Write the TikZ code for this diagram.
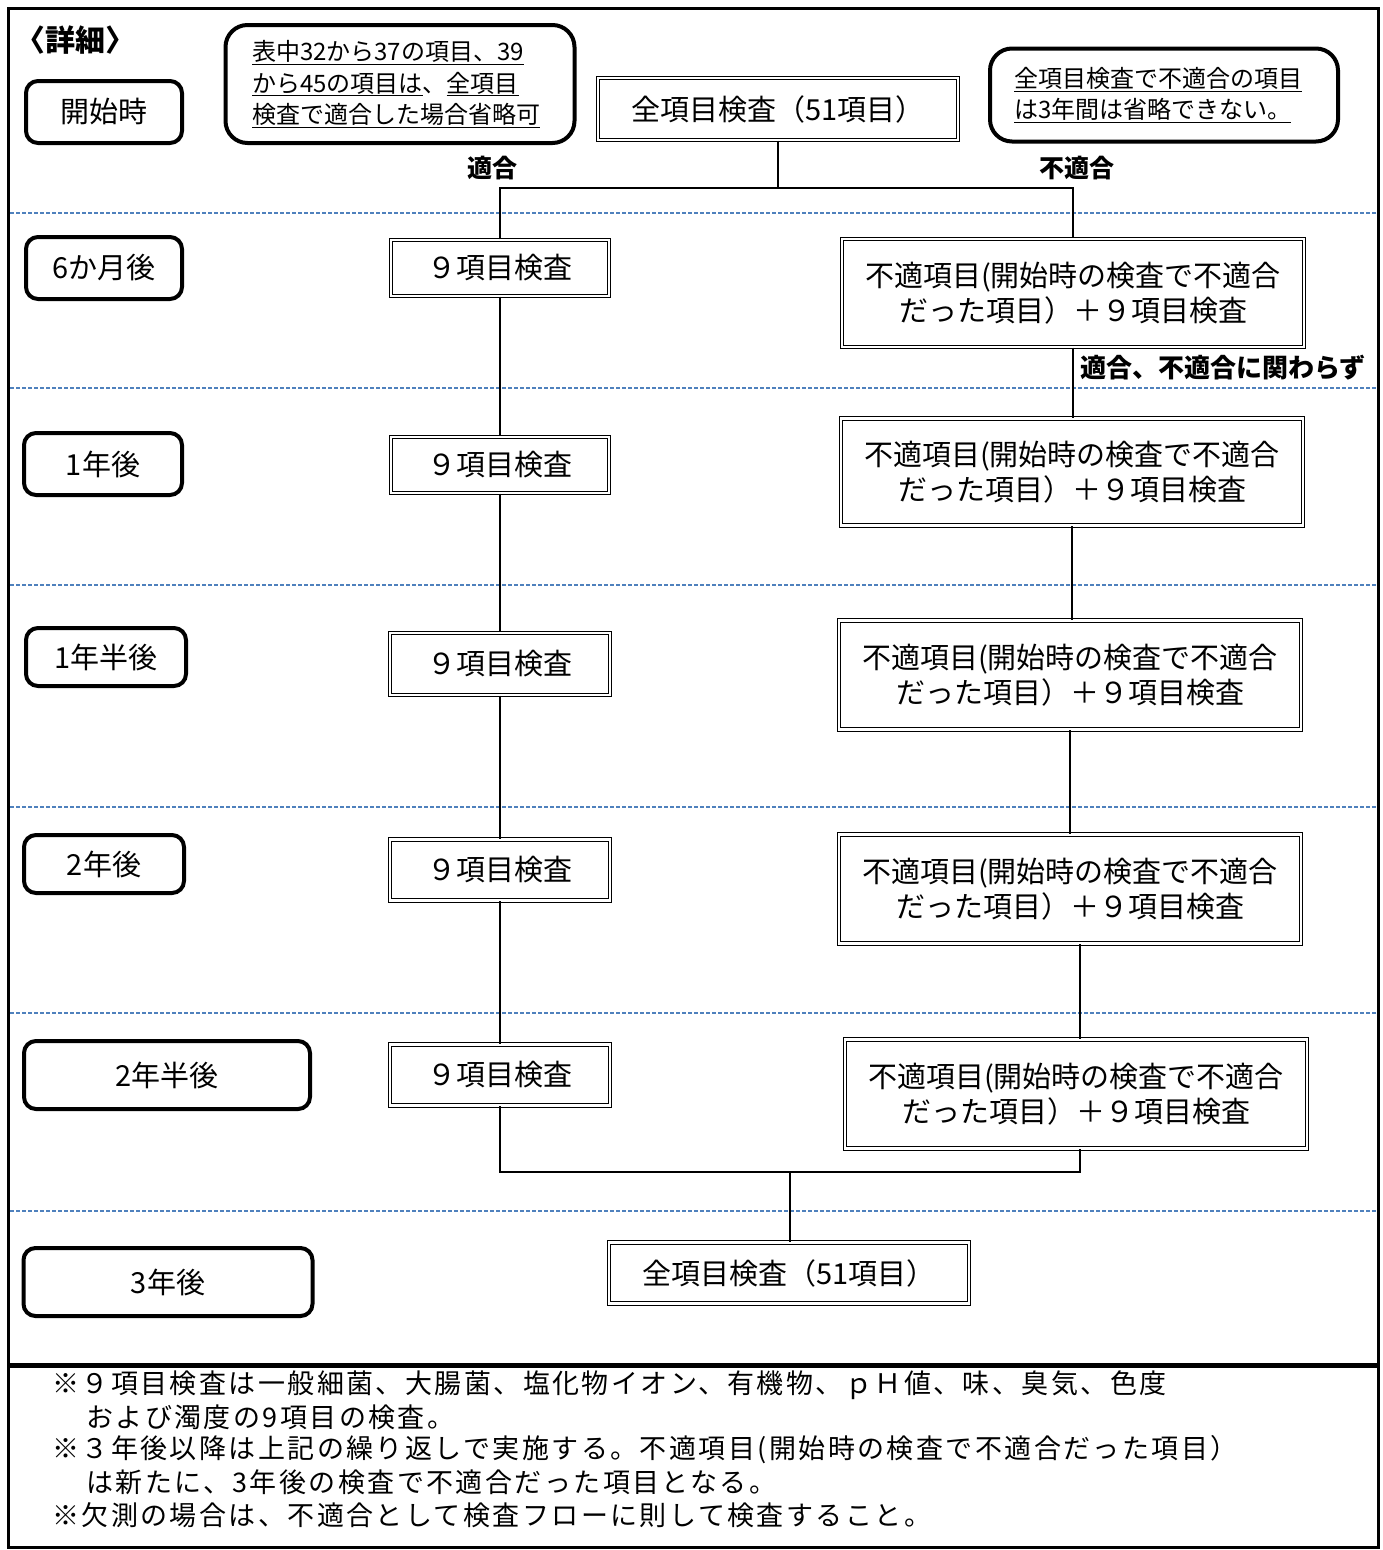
\documentclass[tikz,border=0pt]{standalone}
\usepackage{fontspec}
\setmainfont{Noto Sans CJK JP}
\newcommand\fsz[2]{\fontsize{#1}{#2}\selectfont}
\definecolor{sepblue}{RGB}{79,129,189}
\tikzset{
  x=1pt, y=-1pt,
  lab/.style={draw, line width=4pt, rounded corners=12pt, inner sep=0pt, align=center, font=\fsz{29}{32}},
  note/.style={draw, line width=4pt, rounded corners=22pt, inner sep=0pt, align=left, font=\fsz{24}{31.5}},
  dbox/.style={draw, line width=1.1pt, double distance=2.6pt, inner sep=0pt, align=center, font=\fsz{29}{35}},
  conn/.style={line width=1.3pt},
  sep/.style={draw=sepblue, line width=1.4pt, dash pattern=on 4pt off 2pt},
  blab/.style={font=\bfseries\fsz{25}{30}, inner sep=0pt},
  foot/.style={anchor=west, inner sep=0pt, font=\fsz{27}{33}\addfontfeatures{LetterSpace=9}}
}
\begin{document}
\begin{tikzpicture}
\useasboundingbox (0,0) rectangle (1383,1550);
% frame
\draw[line width=3pt] (8,8) rectangle (1378,1547);
\draw[line width=5pt] (8,1365) -- (1378,1365);
% separators
\foreach \yy in {213,388,585,807,1013,1211}
  \draw[sep] (10,\yy) -- (1376,\yy);

% header label
\node[blab, font=\bfseries\fsz{30}{32}] (title) at (76,40) {〈詳細〉};

% left labels
\node[lab, minimum width=156pt, minimum height=62pt] (t0) at (104,112) {開始時};
\node[lab, minimum width=156pt, minimum height=62pt] (t1) at (104,268) {6か月後};
\node[lab, minimum width=158pt, minimum height=62pt] (t2) at (103,464) {1年後};
\node[lab, minimum width=160pt, minimum height=58pt] (t3) at (106,657) {1年半後};
\node[lab, minimum width=160pt, minimum height=58pt] (t4) at (104,864) {2年後};
\node[lab, minimum width=286pt, minimum height=68pt] (t5) at (167,1075) {2年半後};
\node[lab, minimum width=289pt, minimum height=68pt] (t6) at (168,1282) {3年後};

% notes
\node[note, minimum width=349pt, minimum height=118pt, text width=296pt] (n1) at (400,84)
  {\underline{表中32から37の項目、39}\\\underline{から45の項目は}、\underline{全項目}\\\underline{検査で適合した場合省略可}};
\node[note, minimum width=348pt, minimum height=93pt, text width=300pt] (n2) at (1164,95)
  {\underline{全項目検査で不適合の項目}\\\underline{は3年間は省略できない。}};

% top box
\node[dbox, minimum width=360pt, minimum height=62pt] (top) at (778,109) {全項目検査（51項目）};

% left column
\node[dbox, minimum width=218pt, minimum height=56pt] (L1) at (500,268) {９項目検査};
\node[dbox, minimum width=218pt, minimum height=56pt] (L2) at (500,465) {９項目検査};
\node[dbox, minimum width=220pt, minimum height=62pt] (L3) at (500,664) {９項目検査};
\node[dbox, minimum width=220pt, minimum height=61pt] (L4) at (500,870) {９項目検査};
\node[dbox, minimum width=220pt, minimum height=61pt] (L5) at (500,1075) {９項目検査};

% right column
\node[dbox, minimum width=462pt, minimum height=108pt] (R1) at (1073,293) {不適項目(開始時の検査で不適合\\だった項目）＋９項目検査};
\node[dbox, minimum width=462pt, minimum height=107pt] (R2) at (1072,472) {不適項目(開始時の検査で不適合\\だった項目）＋９項目検査};
\node[dbox, minimum width=462pt, minimum height=109pt] (R3) at (1070,675) {不適項目(開始時の検査で不適合\\だった項目）＋９項目検査};
\node[dbox, minimum width=462pt, minimum height=109pt] (R4) at (1070,889) {不適項目(開始時の検査で不適合\\だった項目）＋９項目検査};
\node[dbox, minimum width=462pt, minimum height=109pt] (R5) at (1076,1094) {不適項目(開始時の検査で不適合\\だった項目）＋９項目検査};

% bottom box
\node[dbox, minimum width=360pt, minimum height=61pt] (B) at (789,1273) {全項目検査（51項目）};

% branch labels
\node[blab] (ok) at (492,168) {適合};
\node[blab] (ng) at (1077,168) {不適合};
\node[blab, anchor=west, font=\bfseries\fsz{26}{30}] (any) at (1080,368) {適合、不適合に関わらず};

% connectors
\coordinate (split) at (778,188);
\coordinate (merge) at (790,1172);
\draw[conn] (top.south) -- (split);
\draw[conn] (L1.north) |- (split) -| (R1.north);
\draw[conn] (L1.south) -- (L1.south |- L2.north);
\draw[conn] (L2.south) -- (L2.south |- L3.north);
\draw[conn] (L3.south) -- (L3.south |- L4.north);
\draw[conn] (L4.south) -- (L4.south |- L5.north);
\draw[conn] (R1.south) -- (R1.south |- R2.north);
\draw[conn] (R2.south) -- (R2.south |- R3.north);
\draw[conn] (R3.south) -- (R3.south |- R4.north);
\draw[conn] ([xshift=10pt]R4.south) -- ([xshift=10pt]R4.south |- R5.north);
\draw[conn] (L5.south) |- (merge) -| ([xshift=4pt]R5.south);
\draw[conn] (merge) -- (merge |- B.north);

% footer
\node[foot] (f1) at (52,1385) {※９項目検査は一般細菌、大腸菌、塩化物イオン、有機物、ｐＨ値、味、臭気、色度};
\node[foot] (f2) at (86,1417) {および濁度の9項目の検査。};
\node[foot] (f3) at (52,1450) {※３年後以降は上記の繰り返しで実施する。不適項目(開始時の検査で不適合だった項目）};
\node[foot] (f4) at (86,1482) {は新たに、3年後の検査で不適合だった項目となる。};
\node[foot] (f5) at (52,1515) {※欠測の場合は、不適合として検査フローに則して検査すること。};
\end{tikzpicture}
\end{document}
